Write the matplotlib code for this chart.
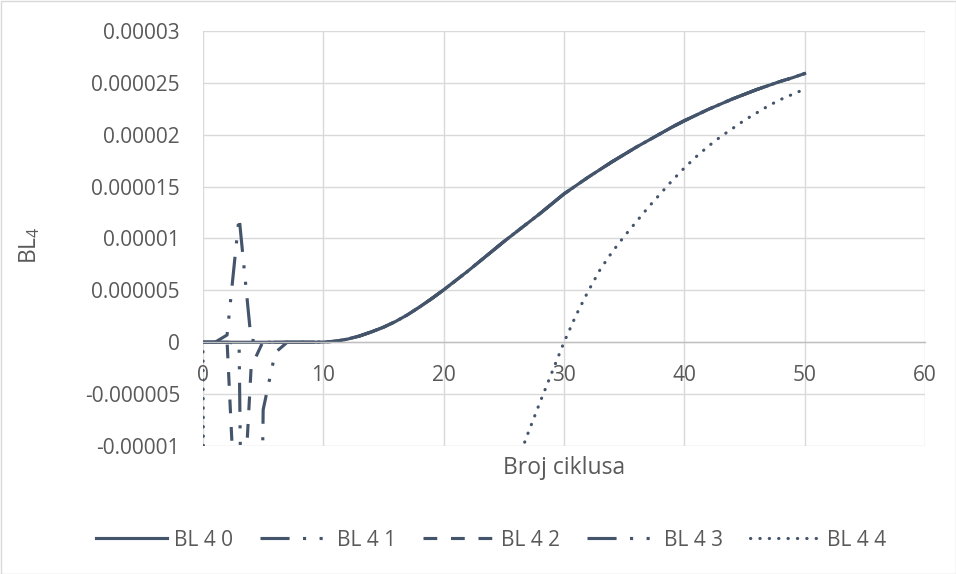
import matplotlib
matplotlib.use("Agg")
import matplotlib.pyplot as plt
from matplotlib.patches import Rectangle
import numpy as np

# Broj ciklusa (x) and BL4 values, in units of 1e-6
cycles = list(range(0, 51))

bl40 = [0, 0, 0, 0, 0, 0, 0, 0, 0, 0,
        0.02, 0.1, 0.3, 0.6, 1.0, 1.45, 2.0, 2.65, 3.4, 4.2,
        5.05, 5.95, 6.85, 7.8, 8.75, 9.7, 10.6, 11.5, 12.4, 13.35,
        14.3, 15.1, 15.9, 16.65, 17.4, 18.1, 18.8, 19.45, 20.1, 20.75,
        21.35, 21.9, 22.45, 22.95, 23.45, 23.9, 24.35, 24.75, 25.15, 25.5,
        25.9]

# first cycles of the oscillating series, afterwards they follow BL 4 0
bl41_head = [0, 0, 0.7, 12.1, 0.2, 0, 0]
bl42_head = [0, 0, 0.1, -24.0, -2.4, 0.1, 0]
bl43_head = [0, 0, 0, -0.1, -99.0, -6.5, -1.0]

bl44 = [0, -300, -272, -246, -222, -200, -180, -162, -145, -130,
        -116, -104, -93, -83, -74, -66, -59, -52, -46, -40,
        -35, -30, -26, -22, -18.6, -15.2, -11.9, -8.8, -5.8, -2.9,
        0.0, 2.6, 4.9, 7.0, 8.7, 10.2, 11.6, 13.0, 14.3, 15.6,
        16.8, 17.9, 18.9, 19.8, 20.6, 21.4, 22.1, 22.8, 23.4, 23.9,
        24.4]

labels = ["BL 4 0", "BL 4 1", "BL 4 2", "BL 4 3", "BL 4 4"]
ytick_vals = [-0.00001, -0.000005, 0, 0.000005, 0.00001, 0.000015, 0.00002, 0.000025, 0.00003]
ytick_labels = ["-0.00001", "-0.000005", "0", "0.000005", "0.00001",
                "0.000015", "0.00002", "0.000025", "0.00003"]
xticks = [0, 10, 20, 30, 40, 50, 60]

FONT = "Open Sans"
plt.rcParams["font.family"] = [FONT, "DejaVu Sans"]
plt.rcParams["mathtext.fontset"] = "custom"
plt.rcParams["mathtext.rm"] = FONT
plt.rcParams["mathtext.default"] = "rm"

LINE = "#44546a"
TXT = "#595959"
GRID = "#d9d9d9"

x = np.array(cycles)
scale = 1e-6
series = [
    np.array(bl40) * scale,
    np.array(bl41_head + bl40[7:]) * scale,
    np.array(bl42_head + bl40[7:]) * scale,
    np.array(bl43_head + bl40[7:]) * scale,
    np.array(bl44) * scale,
]
styles = [
    "-",
    (0, (9.3, 4.3, 1, 4.3, 1, 4.3)),
    (0, (4.4, 4.4)),
    (0, (9.3, 4.3, 1, 4.3, 1, 4.3)),
    (0, (0.1, 2.9)),
]
caps = ["butt", "butt", "butt", "butt", "round"]

fig = plt.figure(figsize=(9.56, 5.74), dpi=100)
ax = fig.add_axes([203 / 956, 128 / 574, 722 / 956, 415 / 574])

handles = []
for y, ls, cap, lab in zip(series, styles, caps, labels):
    h, = ax.plot(x, y, color=LINE, linewidth=2.25, linestyle=ls, label=lab,
                 solid_joinstyle="round", dash_capstyle=cap)
    handles.append(h)

ax.set_xlim(0, 60)
ax.set_ylim(-0.00001, 0.00003)
ax.set_xticks(xticks)
ax.set_yticks(ytick_vals)
ax.set_yticklabels(ytick_labels)

for s in ["top", "right", "left"]:
    ax.spines[s].set_visible(False)
ax.spines["bottom"].set_position(("data", 0))
ax.spines["bottom"].set_color("#bfbfbf")
ax.spines["bottom"].set_linewidth(1.0)
ax.grid(color=GRID, linewidth=1.0)
ax.set_axisbelow(True)
ax.tick_params(length=0, pad=16.5, labelsize=15, labelcolor=TXT)

ax.set_xlabel("Broj ciklusa", fontsize=16.5, color=TXT, va="center")
ax.xaxis.set_label_coords(0.5, -0.053)
ax.set_ylabel("BL$_4$", fontsize=16.5, color=TXT, va="center")
ax.yaxis.set_label_coords(-0.24, 0.484)

fig.legend(handles, labels, loc="center", bbox_to_anchor=(0.514, 0.059), ncol=5,
           frameon=False, handlelength=3.37, handletextpad=0.34, columnspacing=1.3,
           fontsize=15, labelcolor=TXT)

fig.patches.append(Rectangle((0.5 / 956, 0.5 / 574), 1 - 1 / 956, 1 - 1 / 574,
                             transform=fig.transFigure, fill=False,
                             edgecolor=GRID, linewidth=1.0))

fig.savefig("out.png", dpi=100, facecolor="white")
